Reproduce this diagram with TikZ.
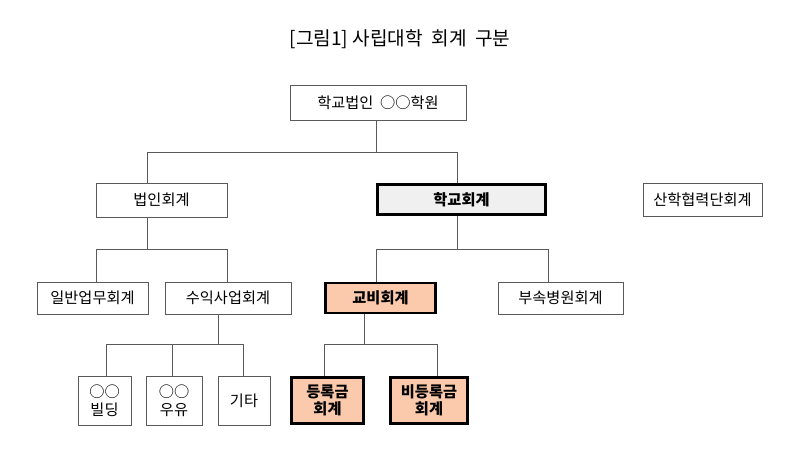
\documentclass[tikz,border=0pt]{standalone}
\usepackage{fontspec}
\setmainfont{Noto Sans CJK KR}
\definecolor{grisclaro}{RGB}{240,240,240}
\definecolor{salmonclaro}{RGB}{251,202,172}
\definecolor{borde}{RGB}{90,90,90}
\begin{document}
\begin{tikzpicture}[x=0.03cm, y=-0.03cm,
		every node/.style={font=\fontsize{13}{15}\selectfont},
		caja/.style 2 args={draw=borde, line width=0.8pt, fill=white, inner sep=0pt, align=center,
			minimum width=#1*0.03cm, minimum height=#2*0.03cm},
		clave/.style={draw=black, line width=2.3pt, font=\fontsize{13}{15}\selectfont\bfseries},
		linea/.style={draw=borde, line width=0.8pt}]
	\useasboundingbox (0,0) rectangle (800,458);
	\node (T) at (400,39) {\fontsize{16.3}{19}\selectfont [그림1]\ 사립대학\ \ 회계\ \ 구분};
	% nivel 1
	\node[caja={176}{35}] (A) at (378,102.5) {학교법인\ \ ○○학원};
	% nivel 2
	\node[caja={131}{34}] (B) at (161.5,200) {법인회계};
	\node[caja={168}{30}, clave, fill=grisclaro] (C) at (461.5,199.5) {학교회계};
	\node[caja={119}{33}] (D) at (702.5,199.5) {산학협력단회계};
	% nivel 3
	\node[caja={111}{32}] (E) at (92.5,298) {일반업무회계};
	\node[caja={126}{32}] (F) at (228,298) {수익사업회계};
	\node[caja={110}{30}, clave, fill=salmonclaro] (G) at (380.5,298) {교비회계};
	\node[caja={125}{32}] (H) at (560.5,298) {부속병원회계};
	% nivel 4
	\node[caja={53}{49}] (I) at (104.5,400.5) {○○\\빌딩};
	\node[caja={56}{49}] (J) at (174,400.5) {○○\\우유};
	\node[caja={52}{49}] (K) at (244,400.5) {기타};
	\node[caja={72}{46}, clave, fill=salmonclaro] (L) at (327.5,400.5) {등록금\\회계};
	\node[caja={77}{46}, clave, fill=salmonclaro] (M) at (429,400.5) {비등록금\\회계};
	% puntos de ramificacion
	\coordinate (a1) at (147,152);
	\coordinate (a2) at (376,152);
	\coordinate (a3) at (457,152);
	\coordinate (b1) at (96,249);
	\coordinate (b2) at (147,249);
	\coordinate (b3) at (227,249);
	\coordinate (c1) at (376,249);
	\coordinate (c2) at (457,249);
	\coordinate (c3) at (548,249);
	\coordinate (d1) at (106,344);
	\coordinate (d2) at (172,344);
	\coordinate (d3) at (218,344);
	\coordinate (d4) at (243,344);
	\coordinate (e1) at (324,344);
	\coordinate (e2) at (364,344);
	\coordinate (e3) at (437,344);
	% lineas
	\draw[linea] (A.south -| a2) -- (a2);
	\draw[linea] (B.north -| a1) -- (a1) -- (a3) -- (C.north -| a3);
	\draw[linea] (B.south -| b2) -- (b2);
	\draw[linea] (E.north -| b1) -- (b1) -- (b3) -- (F.north -| b3);
	\draw[linea] (C.south -| c2) -- (c2);
	\draw[linea] (G.north -| c1) -- (c1) -- (c3) -- (H.north -| c3);
	\draw[linea] (F.south -| d3) -- (d3);
	\draw[linea] (I.north -| d1) -- (d1) -- (d4) -- (K.north -| d4);
	\draw[linea] (d2) -- (J.north -| d2);
	\draw[linea] (G.south -| e2) -- (e2);
	\draw[linea] (L.north -| e1) -- (e1) -- (e3) -- (M.north -| e3);
\end{tikzpicture}
\end{document}
